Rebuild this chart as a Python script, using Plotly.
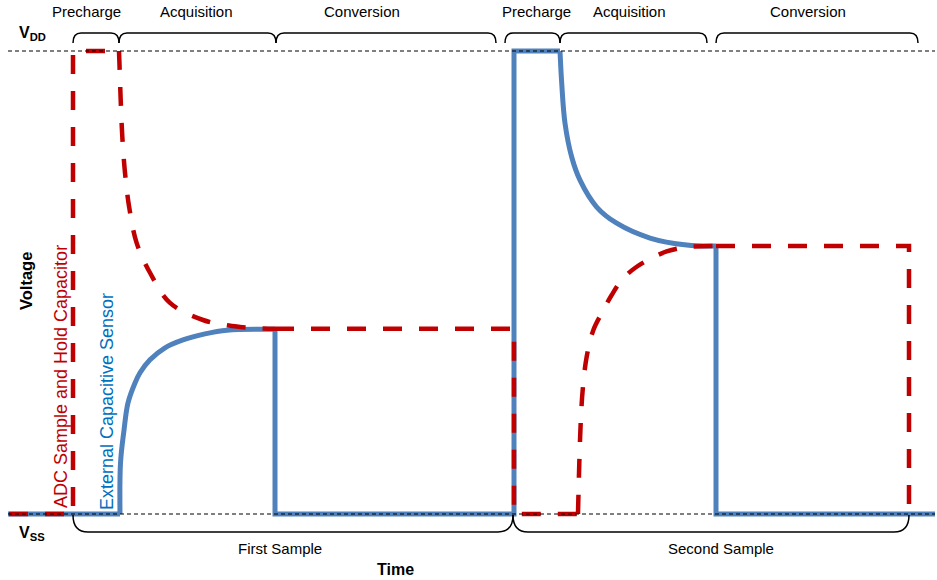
import plotly.graph_objects as go

# ---------------- data (time in arbitrary units, voltage normalised: VSS=0, VDD=1) -------------
sensor_t = [8, 120, 120.5, 124, 128, 135, 140, 150, 165, 183, 205, 227, 275, 275, 514, 514, 560,
            561.7, 565, 571.7, 580, 596.7, 616.7, 650, 686.7, 716, 716, 935]
sensor_v = [0, 0, 0.110, 0.181, 0.240, 0.283, 0.305, 0.333, 0.359, 0.376, 0.389, 0.397, 0.399, 0, 0, 1.0, 1.0,
            0.931, 0.844, 0.771, 0.721, 0.663, 0.628, 0.596, 0.581, 0.579, 0, 0]
# index ranges of the sensor trace that are smooth charging curves
sensor_curves = [(1, 12), (16, 25)]

adc_t = [9, 73, 73, 119, 119.5, 120.7, 122.3, 125, 129.3, 136.7, 150, 170, 203, 240, 275, 514, 514, 578,
         579.3, 580.7, 582.7, 586.7, 593.3, 601.7, 611.7, 621.7, 636.7, 666.7, 690, 716, 909, 909]
adc_v = [0, 0, 1.0, 1.0, 0.97, 0.894, 0.815, 0.737, 0.661, 0.585, 0.521, 0.456, 0.419, 0.404, 0.400, 0.400, 0, 0,
         0.110, 0.197, 0.268, 0.340, 0.397, 0.434, 0.473, 0.505, 0.534, 0.567, 0.577, 0.579, 0.579, 0]
adc_curves = [(3, 14), (17, 29)]

phase_names = ["Precharge", "Acquisition", "Conversion", "Precharge", "Acquisition", "Conversion"]
phase_start = [73, 119, 276, 505, 560, 716]
phase_end = [119, 276, 496, 560, 707, 918]

sample_names = ["First Sample", "Second Sample"]
sample_start = [73, 513]
sample_end = [513, 909]

rail_names = ["DD", "SS"]
rail_v = [1.0, 0.0]

# ---------------- helpers for layout (pixel -> data) ----------------
Y0, Y1 = 514.0, 51.0
def v(py):
    return (Y0 - py) / (Y0 - Y1)

BLUE = "#4F81BD"
RED = "#C00000"
FONT = "Liberation Sans, Arial, sans-serif"


def segments(n, curves):
    """split 0..n-1 into (i0, i1, shape) pieces, curves are spline, rest linear"""
    out, i = [], 0
    for a, b in curves:
        if a > i:
            out.append((i, a, "linear"))
        out.append((a, b, "spline"))
        i = b
    if i < n - 1:
        out.append((i, n - 1, "linear"))
    return out


fig = go.Figure()
for t, vals, curves, line in [
    (sensor_t, sensor_v, sensor_curves, dict(color=BLUE, width=5)),
    (adc_t, adc_v, adc_curves, dict(color=RED, width=4.5, dash="19px,17px")),
]:
    for a, b, shp in segments(len(t), curves):
        fig.add_trace(go.Scatter(x=t[a:b + 1], y=vals[a:b + 1], mode="lines",
                                 line=dict(shape=shp, smoothing=1.0, **line) if shp == "spline"
                                 else dict(shape=shp, **line),
                                 hoverinfo="skip", showlegend=False))

shapes = []
# rails (dotted)
for rv in rail_v:
    shapes.append(dict(type="line", xref="x", yref="y", x0=8, x1=935, y0=rv, y1=rv,
                       line=dict(color="black", width=1, dash="4px,3px"), layer="above"))

# top brackets
yt, yb, r = v(33), v(43), 8
for s, e in zip(phase_start, phase_end):
    path = (f"M {s},{yb} Q {s},{yt} {s + r},{yt} L {e - r},{yt} Q {e},{yt} {e},{yb}")
    shapes.append(dict(type="path", xref="x", yref="y", path=path,
                       line=dict(color="black", width=1.5), layer="above"))
# bottom brackets
yt2, yb2, r2 = v(532), v(515), 15
for s, e in zip(sample_start, sample_end):
    path = (f"M {s},{yb2} Q {s},{yt2} {s + r2},{yt2} L {e - r2},{yt2} Q {e},{yt2} {e},{yb2}")
    shapes.append(dict(type="path", xref="x", yref="y", path=path,
                       line=dict(color="black", width=1.5), layer="above"))

ann = []
label_x = [86.5, 196.5, 362, 536.5, 629, 807.5]
for name, lx in zip(phase_names, label_x):
    ann.append(dict(x=lx, y=v(11), text=name, showarrow=False, xanchor="center", yanchor="middle",
                    font=dict(family=FONT, size=15, color="black")))
for name, lx in zip(sample_names, [279.5, 720.5]):
    ann.append(dict(x=lx, y=v(548), text=name, showarrow=False, xanchor="center", yanchor="middle",
                    font=dict(family=FONT, size=15, color="black")))
for name, py in zip(rail_names, [33, 533]):
    ann.append(dict(x=17, y=v(py), text=f"<b>V<sub>{name}</sub></b>", showarrow=False,
                    xanchor="left", yanchor="middle", font=dict(family=FONT, size=16, color="black")))
ann.append(dict(x=395, y=v(569), text="<b>Time</b>", showarrow=False, xanchor="center", yanchor="middle",
                font=dict(family=FONT, size=16, color="black")))
ann.append(dict(x=26, y=v(281), text="<b>Voltage</b>", showarrow=False, textangle=-90,
                xanchor="center", yanchor="middle", font=dict(family=FONT, size=16.5, color="black")))
ann.append(dict(x=61, y=v(377), text="ADC Sample and Hold Capacitor", showarrow=False, textangle=-90,
                xanchor="center", yanchor="middle", font=dict(family=FONT, size=18, color="#C00000")))
ann.append(dict(x=107, y=v(402), text="External Capacitive Sensor", showarrow=False, textangle=-90,
                xanchor="center", yanchor="middle", font=dict(family=FONT, size=18, color="#0070C0")))

fig.update_layout(
    width=937, height=580, margin=dict(l=0, r=0, t=0, b=0),
    paper_bgcolor="white", plot_bgcolor="white",
    xaxis=dict(range=[0, 937], visible=False, fixedrange=True),
    yaxis=dict(range=[v(580), v(0)], visible=False, fixedrange=True),
    shapes=shapes, annotations=ann, showlegend=False,
)
fig.write_html("out.html")
